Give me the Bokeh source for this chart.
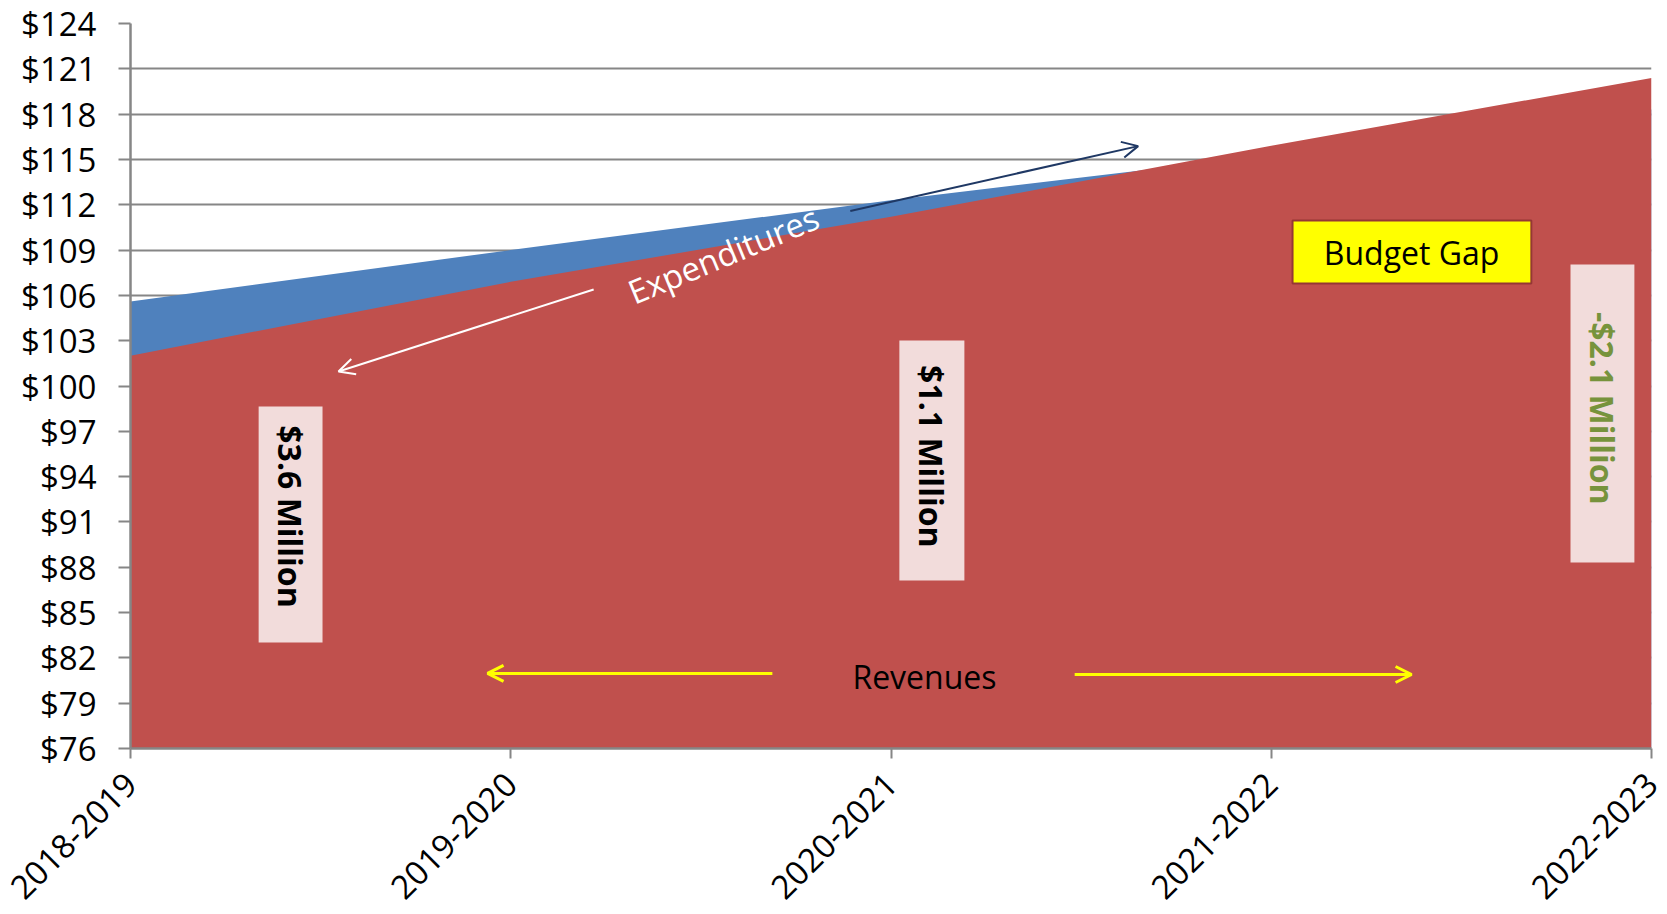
import math
from bokeh.plotting import figure
from bokeh.models import Range1d, FixedTicker, PrintfTickFormatter, Arrow, OpenHead
from bokeh.core.properties import value
from bokeh.embed import file_html
from bokeh.resources import INLINE

# ---- data ----
years = ["2018-2019", "2019-2020", "2020-2021", "2021-2022", "2022-2023"]
expenditures = [105.6, 109.0, 112.3, 115.3, 118.3]
revenues = [102.0, 106.9, 111.2, 115.9, 120.4]
y_ticks = list(range(76, 125, 3))
gap_labels = ["$3.6 Million", "$1.1  Million", "-$2.1  Million"]

xs = list(range(len(years)))
FONT = value("Open Sans")

p = figure(width=1667, height=914, output_backend="svg", toolbar_location=None,
           x_range=Range1d(0, 4), y_range=Range1d(76, 124),
           min_border_left=130, min_border_right=16, min_border_top=23,
           min_border_bottom=166)
p.outline_line_color = None
p.background_fill_color = "white"

# areas (expenditures behind, revenues in front)
p.varea(x=xs, y1=76, y2=expenditures, fill_color="#4F81BD")
p.varea(x=xs, y1=76, y2=revenues, fill_color="#C0504D")

# grid
p.xgrid.visible = False
p.ygrid.ticker = FixedTicker(ticks=y_ticks)
p.ygrid.grid_line_color = "#868686"
p.ygrid.grid_line_width = 2

# y axis
p.yaxis.ticker = FixedTicker(ticks=y_ticks)
p.yaxis.formatter = PrintfTickFormatter(format="$%d")
p.yaxis.minor_tick_line_color = None
p.yaxis.major_tick_out = 12
p.yaxis.major_tick_in = 0
p.yaxis.major_tick_line_color = "#868686"
p.yaxis.major_tick_line_width = 2
p.yaxis.axis_line_color = "#868686"
p.yaxis.axis_line_width = 2.5
p.yaxis.major_label_text_font = "Open Sans"
p.yaxis.major_label_text_font_size = "33px"
p.yaxis.major_label_text_color = "black"
p.yaxis.major_label_standoff = 22

# x axis
p.xaxis.ticker = FixedTicker(ticks=xs)
p.xaxis.major_label_overrides = {i: y for i, y in enumerate(years)}
p.xaxis.major_label_orientation = math.pi / 4
p.xaxis.minor_tick_line_color = None
p.xaxis.major_tick_out = 10
p.xaxis.major_tick_in = 0
p.xaxis.major_tick_line_color = "#868686"
p.xaxis.major_tick_line_width = 2
p.xaxis.axis_line_color = "#868686"
p.xaxis.axis_line_width = 2.5
p.xaxis.major_label_text_font = "Open Sans"
p.xaxis.major_label_text_font_size = "33px"
p.xaxis.major_label_text_color = "black"
p.xaxis.major_label_standoff = 20

# gap label boxes
p.quad(left=[0.337, 2.022, 3.787], right=[0.505, 2.193, 3.955],
       bottom=[83.02, 87.12, 88.31], top=[98.64, 103.01, 108.04],
       fill_color="#F2DCDB", line_color=None)
p.text(x=[0.421, 2.107], y=[91.36, 95.07], text=gap_labels[:2], angle=-math.pi / 2,
       text_font=FONT, text_font_size=value("32px"), text_font_style="bold",
       text_color="black", text_align="center", text_baseline="middle")
p.text(x=[3.871], y=[98.25], text=gap_labels[2:], angle=-math.pi / 2,
       text_font=FONT, text_font_size=value("32px"), text_font_style="bold",
       text_color="#77933C", text_align="center", text_baseline="middle")

# Budget Gap box
p.quad(left=[3.056], right=[3.684], bottom=[106.79], top=[110.96],
       fill_color="#FFFF00", line_color="#953735", line_width=2)
p.text(x=[3.369], y=[108.85], text=["Budget Gap"], text_font=FONT,
       text_font_size=value("32px"), text_color="black",
       text_align="center", text_baseline="middle")

# Expenditures label
p.text(x=[1.559], y=[108.7], text=["Expenditures"], angle=0.394, text_font=FONT,
       text_font_size=value("33px"), text_color="white",
       text_align="center", text_baseline="middle")

# Revenues label
p.text(x=[2.088], y=[80.77], text=["Revenues"], text_font=FONT,
       text_font_size=value("32px"), text_color="black",
       text_align="center", text_baseline="middle")

# arrows
p.add_layout(Arrow(end=OpenHead(line_color="white", line_width=2, size=16),
                   x_start=1.218, y_start=106.39, x_end=0.547, y_end=100.96,
                   line_color="white", line_width=2))
p.add_layout(Arrow(end=OpenHead(line_color="#1F3864", line_width=2, size=16),
                   x_start=1.893, y_start=111.59, x_end=2.650, y_end=115.88,
                   line_color="#1F3864", line_width=2))
p.add_layout(Arrow(end=OpenHead(line_color="#FFFF00", line_width=3, size=16),
                   x_start=1.688, y_start=80.97, x_end=0.939, y_end=80.97,
                   line_color="#FFFF00", line_width=3))
p.add_layout(Arrow(end=OpenHead(line_color="#FFFF00", line_width=3, size=16),
                   x_start=2.483, y_start=80.90, x_end=3.369, y_end=80.90,
                   line_color="#FFFF00", line_width=3))

open("out.html", "w").write(file_html(p, INLINE))
